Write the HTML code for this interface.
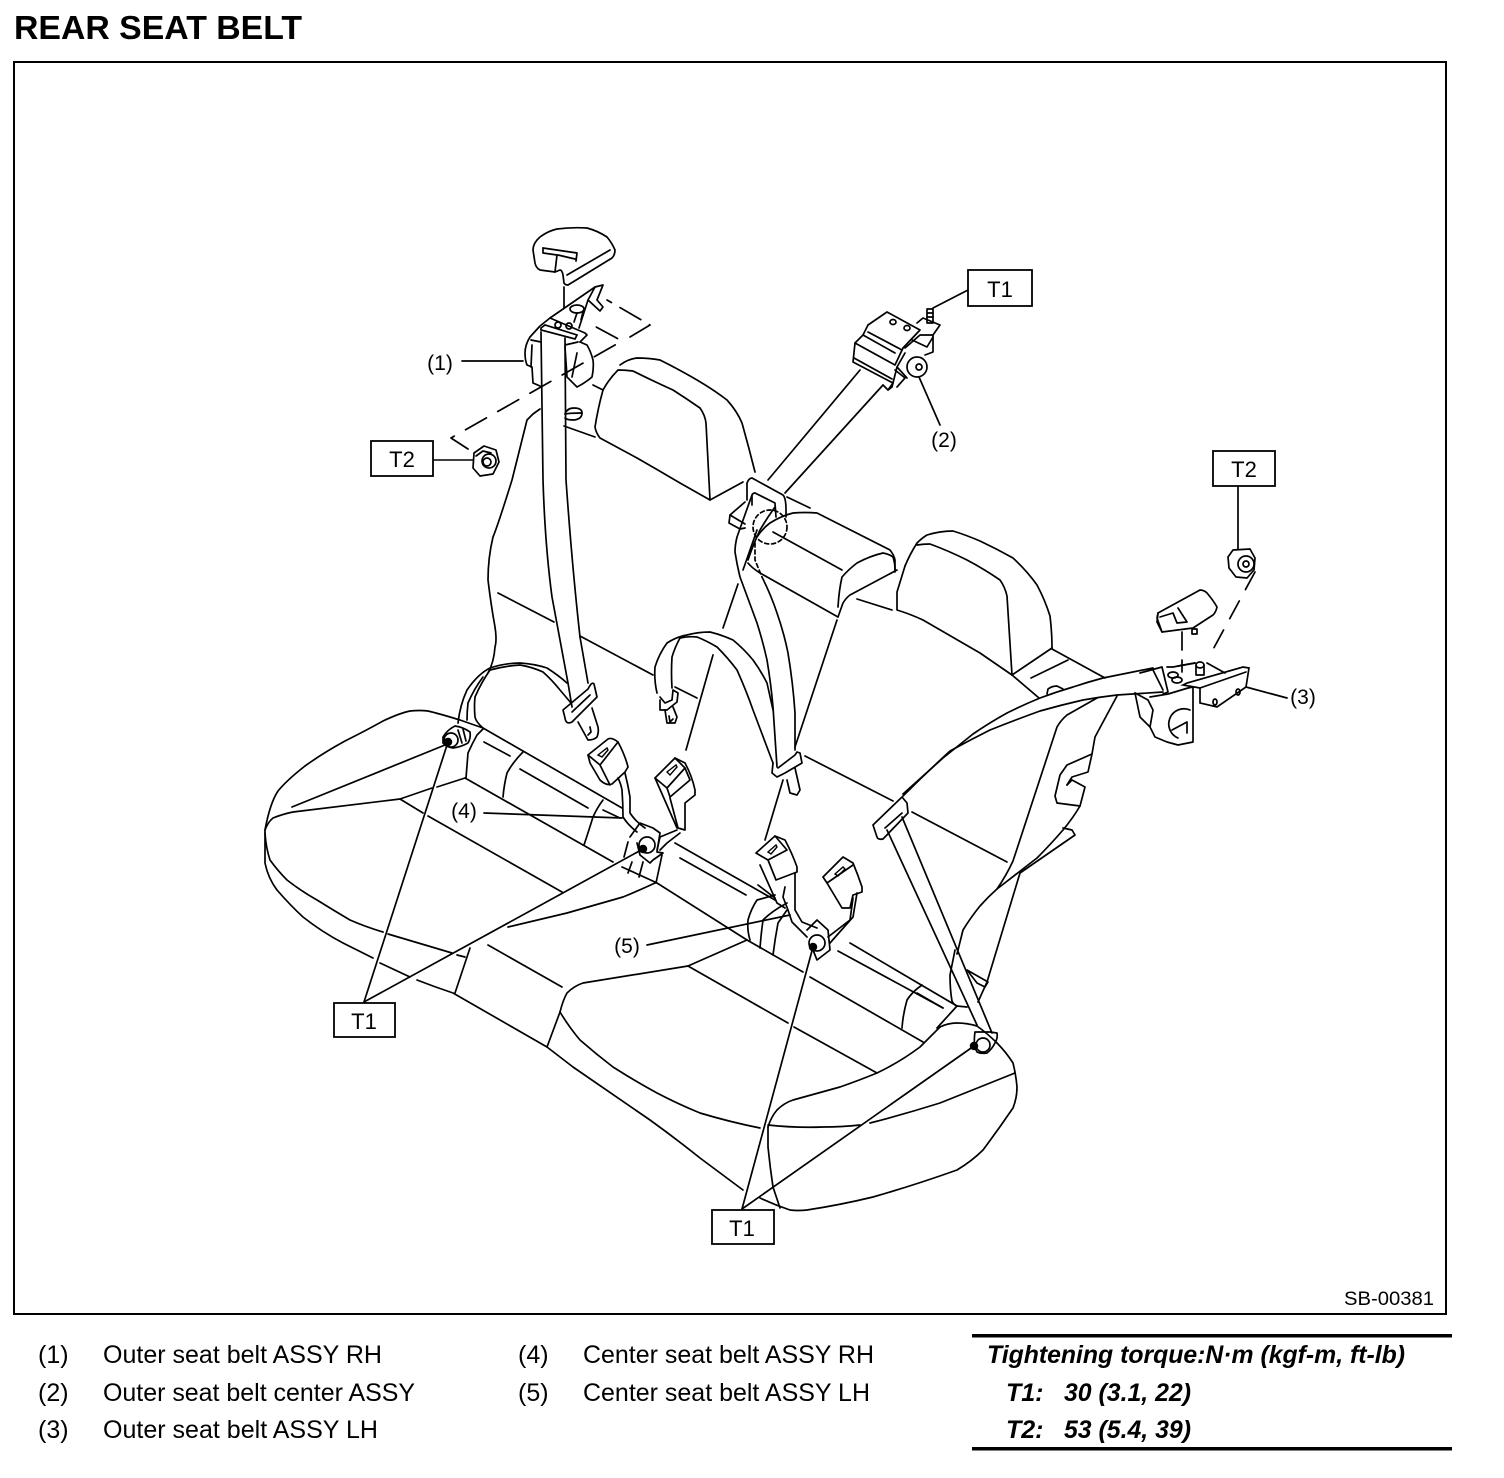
<!DOCTYPE html>
<html lang="en">
<head>
<meta charset="utf-8">
<title>Rear Seat Belt</title>
<style>
html,body{margin:0;padding:0;background:#fff;}
svg{display:block;}
text{font-family:"Liberation Sans",Arial,sans-serif;fill:#000;}
.d path,.d polyline,.d line,.d ellipse,.d circle,.d rect{fill:none;stroke:#000;stroke-width:1.7;stroke-linejoin:round;stroke-linecap:round;}
.lbl{font-size:21px;text-anchor:middle;}
.box{font-size:22px;text-anchor:middle;}
.leg{font-size:25px;}
.tq{font-size:25px;font-weight:bold;font-style:italic;}
</style>
</head>
<body>
<svg xmlns="http://www.w3.org/2000/svg" width="1504" height="1478" viewBox="0 0 1504 1478">
<rect width="1504" height="1478" fill="#fff"/>
<text x="14" y="39" font-size="33" font-weight="bold" textLength="288" lengthAdjust="spacingAndGlyphs">REAR SEAT BELT</text>
<rect x="14" y="62" width="1432" height="1252" fill="none" stroke="#000" stroke-width="2"/>

<g class="d">
<!-- headrest 1 -->
<path d="M533 250Q533 243 540 237Q548 231 557 229Q572 227 587 228Q598 231 607 237Q612 243 615 250Q615 255 612 258L568 285Q565 285 564 283L563 275Q562 270 560 270L555 272L540 270Q536 268 535 263Z"/>
<polyline points="610,250 567,275"/>
<polyline points="543,248 577,253 576,261"/>
<polyline points="543,248 543,253 557,255 555,272"/>
<polyline points="558,255 575,259"/>
<polyline points="564,287 564,308"/>
<!-- retractor 1 -->
<polyline points="550,318 595,287 603,285 597,300 603,307 600,311 588,300 579,328"/>
<polyline points="595,287 588,300"/>
<ellipse cx="577" cy="309" rx="7" ry="4"/>
<polyline points="577,313 574,322"/>
<polyline points="583,312 581,320"/>
<polygon points="541,328 545,325 577,335 575,339 541,330" fill="none" stroke="#000" stroke-width="1.7"/>
<polyline points="550,318 540,326 530,337"/>
<polyline points="550,318 585,333 587,335 580,342"/>
<ellipse cx="558" cy="325" rx="3" ry="3"/>
<ellipse cx="569" cy="326" rx="3" ry="3"/>
<path d="M530 337Q525 345 525 353Q525 360 527 365L532 367L533 383L540 386"/>
<polyline points="532,345 531,367"/>
<polyline points="531,340 541,342"/>
<path d="M565 347L567 377L577 387Q585 383 592 377Q594 368 593 360Q591 352 587 345L580 342"/>
<polyline points="565,345 578,342"/>
<polyline points="577,353 572,377"/>
<line x1="593" y1="385" x2="603" y2="390"/>
<!-- belt 1 -->
<path d="M541 332L543 480Q545 545 552 597L568 683L572 707"/>
<path d="M565 338L566 480Q572 565 580 637L588 683"/>
<!-- dashed -->
<polyline points="468,449 451,438 622,341 587,322" stroke-dasharray="24 13"/>
<polyline points="630,337 650,325 607,300" stroke-dasharray="24 10"/>
<!-- nut left -->
<path d="M474 453L484 446L496 450L499 462L493 474L480 476L473 468Z"/>
<circle cx="489" cy="461" r="7"/>
<polyline points="476,456 483,451 491,453"/>
<circle cx="487" cy="462" r="4"/>
<line x1="433" y1="460" x2="473" y2="460" style="stroke-width:1.6"/>
<!-- hole ellipse -->
<path d="M565 414Q567 408 574 408Q582 408 582 413Q582 419 574 420Q567 420 565 418"/>
<path d="M565 414Q570 413 582 413"/>
<!-- left headrest -->
<path d="M620 365Q628 359 637 358Q649 358 660 360Q680 370 697 380Q714 390 727 400Q737 411 742 423Q749 448 755 472"/>
<path d="M618 370Q625 370 633 371Q653 381 673 390Q687 399 700 408Q705 415 706 423L710 500L680 483Q658 470 637 458L600 438Q596 433 595 427Q598 408 603 390Q609 379 618 370Z"/>
<line x1="710" y1="500" x2="743" y2="482"/>
<line x1="564" y1="426" x2="595" y2="437"/>
<!-- left seatback side -->
<path d="M540 409L533 414L527 420L512 480Q498 525 493 537Q488 558 488 580Q491 605 495 627Q497 640 495 647Q494 662 488 673"/>
<line x1="498" y1="593" x2="554" y2="622"/>
<line x1="580" y1="636" x2="653" y2="675"/>
<line x1="675" y1="687" x2="697" y2="698"/>
<line x1="713" y1="655" x2="686" y2="750"/>
<line x1="738" y1="584" x2="723" y2="628"/>
<line x1="743" y1="570" x2="757" y2="530"/>
<!-- outer belt arc left -->
<path d="M458 723Q460 705 467 690Q478 674 490 668Q505 663 520 663Q535 664 547 668Q558 675 567 683"/>
<path d="M483 728Q476 722 475 717Q474 706 475 697Q481 683 490 670Q505 666 520 665Q532 667 543 672Q552 680 560 690L571 703"/>
<path d="M467 720Q467 712 468 703Q474 689 483 677"/>
<!-- tongue 1 -->
<path d="M563 710L588 689Q592 681 594 684L597 697L572 722Q566 725 565 718Z"/>
<line x1="572" y1="712" x2="590" y2="695"/>
<path d="M578 722L588 740Q594 740 597 737Q599 732 598 727L592 708"/>
<polyline points="590,727 591,732 588,735"/>
<!-- left anchor -->
<path d="M443 737Q447 730 455 726Q463 727 470 732Q471 738 468 743Q461 747 453 748Q446 747 443 743Z"/>
<circle cx="451" cy="740" r="7"/>
<line x1="458" y1="730" x2="462" y2="743"/>
<line x1="463" y1="729" x2="466" y2="741"/>
<circle cx="448" cy="742" r="3.4" style="fill:#000"/>
<!-- left cushion -->
<path d="M265 830Q270 803 278 791Q287 780 305 766Q323 753 345 741Q367 730 383 721Q400 713 410 711Q420 710 428 711Q437 713 460 720L483 728L622 808"/>
<path d="M265 830L265 863Q268 878 277 890Q290 905 303 917Q322 932 343 943L373 958"/>
<path d="M380 963L410 977"/>
<path d="M417 980Q435 987 453 993L547 1047Q560 1057 573 1067L650 1120Q675 1138 700 1158L743 1190"/>
<path d="M760 1198Q775 1205 790 1210Q798 1211 807 1210Q840 1205 873 1197Q915 1185 957 1170Q972 1161 983 1150Q998 1130 1013 1108Q1017 1098 1017 1087Q1016 1075 1013 1063Q1006 1052 997 1043"/>
<path d="M265 830Q268 822 273 818Q283 814 293 812L400 799L432 788"/>
<line x1="437" y1="787" x2="465" y2="778"/>
<line x1="292" y1="807" x2="445" y2="745"/>
<path d="M466 778L468 753Q472 744 477 735L483 729"/>
<line x1="465" y1="778" x2="613" y2="862"/>
<line x1="622" y1="867" x2="655" y2="882"/>
<line x1="657" y1="883" x2="747" y2="940"/>
<line x1="747" y1="940" x2="803" y2="972"/>
<line x1="810" y1="977" x2="923" y2="1042"/>
<line x1="656" y1="883" x2="662" y2="855"/>
<path d="M655 883Q640 890 623 897Q595 905 567 913L508 927"/>
<line x1="484" y1="742" x2="510" y2="756"/>
<path d="M523 752Q513 762 507 773Q504 785 503 797"/>
<line x1="520" y1="769" x2="588" y2="808"/>
<path d="M603 800Q597 808 593 817Q589 830 584 845"/>
<line x1="603" y1="810" x2="620" y2="818"/>
<line x1="400" y1="799" x2="423" y2="813"/>
<line x1="428" y1="816" x2="562" y2="892"/>
<path d="M265 833Q266 848 270 860Q278 871 287 880Q301 891 317 900Q333 910 350 920Q366 927 383 932"/>
<line x1="388" y1="934" x2="452" y2="953"/>
<line x1="457" y1="955" x2="465" y2="957"/>
<line x1="470" y1="948" x2="455" y2="993"/>
<line x1="488" y1="945" x2="562" y2="987"/>
<line x1="675" y1="843" x2="775" y2="900"/>
<!-- right cushion -->
<path d="M560 1012Q563 1000 567 993Q574 986 583 983L688 966L747 940"/>
<line x1="560" y1="1012" x2="547" y2="1047"/>
<path d="M560 1012Q569 1027 580 1040Q596 1054 613 1067Q635 1081 657 1093Q678 1104 700 1113Q730 1122 760 1128"/>
<path d="M768 1125Q795 1128 823 1127Q842 1127 860 1125"/>
<path d="M870 1123Q905 1114 940 1103L1015 1073"/>
<path d="M768 1127Q771 1117 777 1110Q784 1103 793 1100L840 1087Q860 1080 877 1073Q900 1062 920 1047Q931 1036 940 1027Q948 1023 957 1023Q967 1023 977 1026Q988 1034 997 1043"/>
<path d="M768 1127L768 1147Q770 1167 773 1187L780 1208"/>
<line x1="688" y1="966" x2="788" y2="1023"/>
<line x1="794" y1="1027" x2="877" y2="1073"/>
<line x1="838" y1="951" x2="943" y2="1008"/>
<path d="M922 985Q912 992 907 1000Q903 1014 902 1028"/>
<line x1="917" y1="993" x2="943" y2="1008"/>
<line x1="937" y1="1028" x2="957" y2="1006"/>
<line x1="850" y1="943" x2="957" y2="1006"/>
<!-- T1 leaders -->
<g style="stroke-width:1.5">
<line x1="364" y1="1002" x2="448" y2="742"/>
<line x1="364" y1="1002" x2="643" y2="849"/>
<line x1="742" y1="1209" x2="813" y2="947"/>
<line x1="742" y1="1209" x2="974" y2="1046"/>
<line x1="968" y1="290" x2="933" y2="308"/>
</g>
<!-- centre arc belt -->
<path d="M657 693Q654 680 655 667Q659 654 667 643Q676 637 687 635Q698 632 710 632Q722 635 733 640Q744 649 753 660Q761 671 767 683L773 710"/>
<path d="M672 688Q671 672 672 657Q675 647 680 638Q688 636 697 637Q707 641 717 647Q728 658 737 670Q746 690 753 710L773 763"/>
<polyline points="660,700 660,710 667,710 677,702 678,693 673,690 672,700 665,703 660,697"/>
<polyline points="665,710 667,723 675,723 677,717 673,707"/>
<polyline points="669,716 670,722 673,719"/>
<!-- centre shoulder belt and guide -->
<path d="M747 500L747 483Q749 478 752 478L783 495Q786 498 786 510L786 517"/>
<path d="M752 505L752 495Q753 493 755 493L775 503L776 517"/>
<path d="M745 502L730 515L729 523L740 529L745 528"/>
<line x1="730" y1="515" x2="745" y2="524"/>
<path d="M752 495L737 537Q735 545 735 552Q737 565 740 577L757 623Q763 642 767 660Q771 684 773 707L777 767"/>
<path d="M775 507Q767 518 760 530Q753 545 748 560"/>
<path d="M762 577Q771 595 777 613Q784 633 788 653Q793 683 795 713L795 750"/>
<path d="M755 543L755 560L762 577" stroke-dasharray="4 3"/>
<circle cx="770" cy="527" r="17" stroke-dasharray="4 3"/>
<polyline points="773,763 772,773 777,777 785,773 802,763 800,753 797,752 795,755 778,768"/>
<path d="M787 780L790 793L797 795L800 790L795 768"/>
<line x1="837" y1="620" x2="795" y2="747"/>
<line x1="783" y1="780" x2="765" y2="840"/>
<!-- centre seat back -->
<line x1="787" y1="497" x2="810" y2="508"/>
<path d="M757 537Q763 528 770 523Q781 516 793 513Q805 512 817 513L890 550Q894 555 895 560L895 572"/>
<path d="M748 563Q752 568 760 573L838 617"/>
<line x1="773" y1="532" x2="842" y2="570"/>
<path d="M838 607Q839 590 842 577Q849 569 857 563Q870 556 883 553Q889 554 893 557Q895 563 895 570"/>
<path d="M897 570L850 595Q846 598 843 603L838 617"/>
<!-- right headrest -->
<path d="M905 566Q910 554 917 543Q922 538 927 535Q940 531 953 531Q966 535 980 541Q997 549 1013 558Q1027 571 1037 585Q1045 600 1050 616Q1052 632 1052 648"/>
<path d="M917 545Q923 544 930 544Q949 551 967 560Q984 569 1000 580Q1005 587 1007 596L1012 675L980 653L923 620Q910 614 897 610L897 592L905 566"/>
<line x1="1012" y1="675" x2="1052" y2="648"/>
<line x1="1052" y1="649" x2="1105" y2="678"/>
<line x1="1031" y1="678" x2="1068" y2="660"/>
<line x1="1012" y1="675" x2="1039" y2="698"/>
<line x1="857" y1="599" x2="892" y2="610"/>
<line x1="805" y1="756" x2="893" y2="801"/>
<line x1="912" y1="812" x2="1007" y2="862"/>
<!-- right shoulder belt -->
<path d="M903 794Q923 776 943 758Q958 746 973 734Q989 723 1007 713Q1023 705 1040 698Q1056 692 1073 687Q1088 682 1103 678L1153 668"/>
<path d="M903 796Q926 773 950 751Q970 740 990 730Q1015 720 1040 711Q1061 705 1083 700Q1100 697 1117 695L1163 692"/>
<path d="M873 825L902 797L907 803L908 813L883 839Q878 840 877 837Z"/>
<line x1="885" y1="828" x2="902" y2="813"/>
<line x1="887" y1="830" x2="977" y2="1025"/>
<line x1="902" y1="817" x2="992" y2="1033"/>
<!-- right anchor -->
<path d="M975 1032L990 1032L997 1033Q998 1038 995 1043Q992 1049 987 1053Q981 1054 977 1052Q973 1045 975 1032Z"/>
<circle cx="983" cy="1045" r="7"/>
<circle cx="974" cy="1046" r="3.4" style="fill:#000"/>
<!-- right side of seatback -->
<polyline points="1117,696 1095,737 1092,754 1067,765 1060,775 1055,796 1057,803 1080,806 1085,787 1072,780 1067,785"/>
<polyline points="1092,754 1088,772 1072,777 1067,785"/>
<path d="M1080 806Q1073 818 1063 830Q1050 845 1037 858L997 889Q988 897 980 906Q971 917 963 930L957 954"/>
<polyline points="1063,828 1072,830 1075,835 1020,873 987,982 978,1002"/>
<path d="M1097 698L1067 715Q1061 720 1057 727L1013 861Q1006 876 997 889"/>
<path d="M1047 694L1048 689Q1052 686 1057 686L1063 689"/>
<path d="M955 950L950 975Q950 990 952 1001Q954 1005 957 1006L967 1007"/>
<polyline points="967,970 988,982 985,987 977,983 967,970"/>
<!-- right nut and dashes -->
<path d="M1228 557L1233 550L1250 549L1255 558L1254 570L1247 578L1236 577L1229 568Z"/>
<circle cx="1246" cy="564" r="8"/>
<circle cx="1246" cy="564" r="3"/>
<line x1="1238" y1="487" x2="1238" y2="549"/>
<line x1="1255" y1="572" x2="1210" y2="655" stroke-dasharray="20 13"/>
<!-- right headrest part -->
<path d="M1158 613L1200 590Q1204 590 1207 593Q1213 600 1217 607Q1216 612 1213 615L1193 628L1162 632L1157 618Z"/>
<polyline points="1178,608 1187,622 1177,623 1173,613 1160,617"/>
<polyline points="1158,613 1157,622 1162,632"/>
<rect x="1192" y="629" width="5" height="5"/>
<line x1="1182" y1="632" x2="1182" y2="650"/>
<line x1="1182" y1="660" x2="1182" y2="672"/>
<line x1="1178" y1="666" x2="1195" y2="663"/>
<!-- retractor 3 -->
<polyline points="1140,673 1162,667 1168,692 1163,694"/>
<polyline points="1153,670 1163,690"/>
<polygon points="1183,685 1187,683 1243,667 1249,668 1246,687 1217,707 1200,703 1200,688" fill="none" stroke="#000" stroke-width="1.7"/>
<line x1="1200" y1="688" x2="1246" y2="672"/>
<ellipse cx="1215" cy="702" rx="2" ry="3"/>
<ellipse cx="1238" cy="692" rx="2" ry="3"/>
<ellipse cx="1200" cy="665" rx="4" ry="3"/>
<polyline points="1196,665 1196,675 1204,675 1204,665"/>
<line x1="1207" y1="663" x2="1225" y2="673"/>
<polyline points="1195,663 1173,667 1167,667"/>
<ellipse cx="1173" cy="675" rx="5" ry="3"/>
<ellipse cx="1177" cy="680" rx="5" ry="3"/>
<polyline points="1135,693 1140,717 1150,727"/>
<polyline points="1150,697 1168,694 1188,688 1193,687 1193,742 1178,745 1167,742 1155,737 1150,727 1153,710 1148,700 1135,693"/>
<path d="M1190 710A15 15 0 1 0 1178 738"/>
<polyline points="1172,730 1187,722 1187,733"/>
<line x1="1246" y1="687" x2="1287" y2="698"/>
<!-- retractor 2 -->
<rect x="927" y="309" width="6" height="14"/>
<line x1="927" y1="313" x2="933" y2="313"/>
<line x1="927" y1="317" x2="933" y2="317"/>
<polyline points="868,325 887,312 920,330 903,348"/>
<ellipse cx="893" cy="322" rx="3" ry="2.5"/>
<ellipse cx="907" cy="328" rx="3" ry="2.5"/>
<polyline points="868,325 863,335 855,343 853,362 893,383 888,390 883,385"/>
<polyline points="855,343 895,365 903,348"/>
<line x1="868" y1="332" x2="902" y2="350"/>
<line x1="863" y1="335" x2="895" y2="353"/>
<line x1="854" y1="358" x2="892" y2="379"/>
<circle cx="917" cy="367" r="10"/>
<circle cx="919" cy="367" r="3"/>
<polyline points="905,353 897,367 907,378"/>
<polyline points="905,348 920,335 933,335 933,352 925,355"/>
<polyline points="917,323 923,318 940,325 933,335"/>
<polyline points="912,340 927,347 933,337"/>
<polyline points="897,367 892,387 888,390"/>
<polyline points="895,370 905,378 897,387"/>
<line x1="860" y1="370" x2="768" y2="480"/>
<line x1="883" y1="385" x2="785" y2="493"/>
<line x1="919" y1="377" x2="940" y2="425"/>
<!-- leader 1 -->
<line x1="462" y1="361" x2="523" y2="361"/>
<line x1="484" y1="813" x2="622" y2="818"/>
<line x1="647" y1="945" x2="790" y2="915"/>
<!-- buckle 4a -->
<path d="M588 755L608 739Q612 737 618 742Q625 755 628 767L625 772L612 784Q606 786 600 780L590 763Z"/>
<polyline points="588,755 600,765 618,742"/>
<polyline points="600,765 610,785"/>
<polygon points="598,755 607,748 608,750 602,757" fill="none" stroke="#000" stroke-width="1.4"/>
<path d="M618 778Q621 784 622 790Q623 804 623 817Q628 825 637 832"/>
<path d="M625 773Q628 785 630 797Q630 805 630 813Q636 822 645 828"/>
<polyline points="630,837 640,823 653,828 660,833 657,852 663,853 653,860 650,863 640,855 637,843"/>
<circle cx="647" cy="845" r="8"/>
<circle cx="643" cy="849" r="3.4" style="fill:#000"/>
<!-- fold lines -->
<line x1="632" y1="862" x2="628" y2="873"/>
<line x1="643" y1="862" x2="639" y2="877"/>
<line x1="628" y1="842" x2="624" y2="857"/>
<!-- buckle 4b -->
<polyline points="655,778 675,758 685,768 667,788 655,778"/>
<polyline points="667,788 670,797 690,780 685,768"/>
<path d="M675 758L685 763Q692 776 695 790L695 795L685 803L685 830L678 828L670 798"/>
<polyline points="655,778 677,828"/>
<polygon points="667,772 676,765 677,767 670,775" fill="none" stroke="#000" stroke-width="1.4"/>
<polyline points="677,830 660,837 657,850"/>
<polyline points="680,833 667,843 660,850"/>
<!-- buckle 5a -->
<polyline points="756,853 775,836 787,850 768,860 756,853"/>
<path d="M775 836L785 840Q792 853 797 867L797 872L776 880L768 860"/>
<polygon points="768,852 776,845 777,847 771,854" fill="none" stroke="#000" stroke-width="1.4"/>
<polyline points="760,865 777,903 785,908"/>
<path d="M785 887L783 897L788 910L792 922L807 937"/>
<path d="M795 873L795 910L802 922L817 928"/>
<polyline points="807,930 817,920 828,930 830,950 817,960 813,950"/>
<circle cx="817" cy="943" r="8"/>
<circle cx="813" cy="947" r="3.4" style="fill:#000"/>
<path d="M750 940Q747 930 748 920Q751 909 757 900L775 895"/>
<path d="M760 948Q761 934 763 920Q772 911 787 903"/>
<path d="M773 955Q775 939 778 923L787 910"/>
<line x1="680" y1="858" x2="746" y2="895"/>
<line x1="758" y1="885" x2="775" y2="898"/>
<!-- buckle 5b -->
<path d="M823 877L843 857L853 863Q858 875 862 887L862 892L853 895L850 908L842 908L827 883Z"/>
<line x1="827" y1="883" x2="853" y2="865"/>
<polygon points="835,874 843,867 845,869 838,876" fill="none" stroke="#000" stroke-width="1.4"/>
<path d="M853 898L850 920L828 937"/>
<path d="M857 893L853 917L830 943"/>
</g>

<!-- boxes -->
<g fill="#fff" stroke="#000" stroke-width="1.8">
<rect x="968" y="270" width="64" height="36"/>
<rect x="371" y="441" width="62" height="35"/>
<rect x="1213" y="451" width="62" height="35"/>
<rect x="334" y="1003" width="61" height="34"/>
<rect x="712" y="1210" width="62" height="34"/>
</g>
<text class="box" x="1000" y="297">T1</text>
<text class="box" x="402" y="467">T2</text>
<text class="box" x="1244" y="477">T2</text>
<text class="box" x="364" y="1029">T1</text>
<text class="box" x="742" y="1236">T1</text>

<text class="lbl" x="440" y="370">(1)</text>
<text class="lbl" x="944" y="447">(2)</text>
<text class="lbl" x="1303" y="704">(3)</text>
<text class="lbl" x="464" y="818">(4)</text>
<text class="lbl" x="627" y="953">(5)</text>
<text x="1344" y="1305" font-size="19" textLength="90" lengthAdjust="spacingAndGlyphs">SB-00381</text>

<!-- legend -->
<text class="leg" x="38" y="1363">(1)</text>
<text class="leg" x="103" y="1363" textLength="279" lengthAdjust="spacingAndGlyphs">Outer seat belt ASSY RH</text>
<text class="leg" x="38" y="1401">(2)</text>
<text class="leg" x="103" y="1401" textLength="312" lengthAdjust="spacingAndGlyphs">Outer seat belt center ASSY</text>
<text class="leg" x="38" y="1438">(3)</text>
<text class="leg" x="103" y="1438" textLength="275" lengthAdjust="spacingAndGlyphs">Outer seat belt ASSY LH</text>
<text class="leg" x="518" y="1363">(4)</text>
<text class="leg" x="583" y="1363" textLength="291" lengthAdjust="spacingAndGlyphs">Center seat belt ASSY RH</text>
<text class="leg" x="518" y="1401">(5)</text>
<text class="leg" x="583" y="1401" textLength="287" lengthAdjust="spacingAndGlyphs">Center seat belt ASSY LH</text>

<rect x="972" y="1334" width="480" height="3.5" fill="#000"/>
<rect x="972" y="1447" width="480" height="3.5" fill="#000"/>
<text class="tq" x="987" y="1363" textLength="418" lengthAdjust="spacingAndGlyphs">Tightening torque:N·m (kgf-m, ft-lb)</text>
<text class="tq" x="1006" y="1401">T1:</text>
<text class="tq" x="1064" y="1401" textLength="127" lengthAdjust="spacingAndGlyphs">30 (3.1, 22)</text>
<text class="tq" x="1006" y="1438">T2:</text>
<text class="tq" x="1064" y="1438" textLength="127" lengthAdjust="spacingAndGlyphs">53 (5.4, 39)</text>
</svg>
</body>
</html>
